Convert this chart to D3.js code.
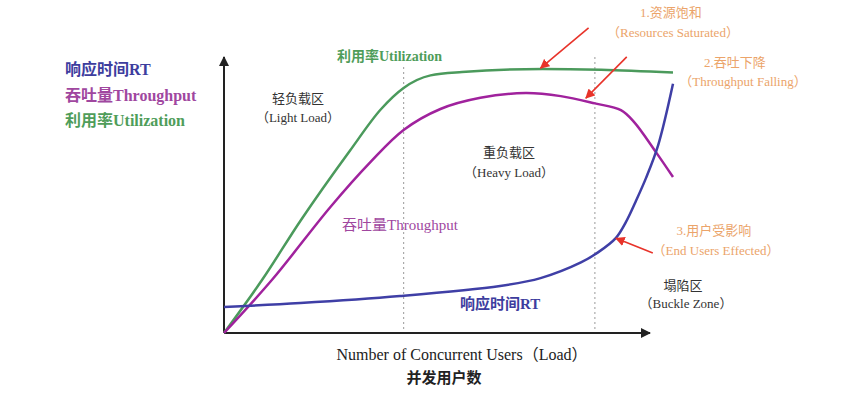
<!DOCTYPE html>
<html>
<head>
<meta charset="utf-8">
<script src="https://cdn.jsdelivr.net/npm/d3@7"></script>
<style>
  body { margin: 0; background: #fff; }
  text { font-family: "Liberation Serif", "Noto Sans CJK SC", serif; }
</style>
</head>
<body>
<div id="chart"></div>
<script>
// load (x) and level (y), both on a 0-100 scale
var utilLoad = [0, 8.5, 17, 28, 35, 40, 46, 53, 71, 84, 100];
var utilValue = [0, 19, 40, 65, 80, 87.5, 92, 93.2, 94.3, 94, 93];

var tputLoad = [0, 10.7, 23.7, 32.6, 40, 48.2, 57.1, 67.2, 75, 82.6, 88.4, 91.3, 96.2, 100];
var tputValue = [0, 19, 45, 61, 72.5, 80, 84, 85.7, 84.6, 82, 79.6, 75.4, 64.6, 55.7];

var rtLoad = [0, 17, 39.2, 61.5, 70.5, 79.5, 83.3, 87.3, 89.5, 91.7, 94, 96.7, 100];
var rtValue = [9.3, 10.7, 13.2, 16.8, 19.6, 25.2, 28.8, 34, 39.6, 47, 55.4, 67.1, 89];

// zone boundaries (load)
var zoneBounds = [40, 82.6];

// red annotation arrows: [tailLoad, tailValue, tipLoad, tipValue]
var arrows = [
    [81.2, 109, 70.5, 94.6],
    [89.7, 98.6, 80.6, 83.9],
    [95.5, 28.6, 87.3, 33.8]
];

function init(){
    var w = 852;
    var h = 396;

    var xScale = d3.scaleLinear().domain([0, 100]).range([224, 673]);
    var yScale = d3.scaleLinear().domain([0, 100]).range([333, 53]);

    var svg = d3.select('#chart')
                .append('svg')
                .attr('width', w)
                .attr('height', h);

    var defs = svg.append('defs');
    defs.append('marker')
        .attr('id', 'axisHead')
        .attr('viewBox', '0 0 10 10')
        .attr('refX', 9).attr('refY', 5)
        .attr('markerWidth', 5).attr('markerHeight', 5)
        .attr('markerUnits', 'strokeWidth')
        .attr('orient', 'auto')
        .append('path').attr('d', 'M0,0L10,5L0,10z').attr('fill', '#222');
    defs.append('marker')
        .attr('id', 'redHead')
        .attr('viewBox', '0 0 10 10')
        .attr('refX', 9).attr('refY', 5)
        .attr('markerWidth', 6).attr('markerHeight', 6)
        .attr('markerUnits', 'strokeWidth')
        .attr('orient', 'auto')
        .append('path').attr('d', 'M0,0L10,5L0,10z').attr('fill', '#e8332a');

    // dashed zone lines
    svg.selectAll('line.zone')
        .data(zoneBounds)
        .enter()
        .append('line')
        .attr('class', 'zone')
        .attr('x1', function(d){ return xScale(d); })
        .attr('x2', function(d){ return xScale(d); })
        .attr('y1', function(d, i){ return i == 0 ? 67 : 57; })
        .attr('y2', yScale(0))
        .attr('stroke', '#aaa')
        .attr('stroke-width', 1.2)
        .attr('stroke-dasharray', '2,3');

    // axes
    svg.append('line')
        .attr('x1', xScale(0)).attr('y1', yScale(0))
        .attr('x2', xScale(0)).attr('y2', 57)
        .attr('stroke', '#222').attr('stroke-width', 2)
        .attr('marker-end', 'url(#axisHead)');
    svg.append('line')
        .attr('x1', xScale(0)).attr('y1', yScale(0))
        .attr('x2', 650).attr('y2', yScale(0))
        .attr('stroke', '#222').attr('stroke-width', 2)
        .attr('marker-end', 'url(#axisHead)');

    var series = [
        { x: utilLoad, y: utilValue, color: '#4b9a5c', curve: d3.curveMonotoneX },
        { x: tputLoad, y: tputValue, color: '#a0229d', curve: d3.curveCatmullRom.alpha(0.5) },
        { x: rtLoad, y: rtValue, color: '#3f3fa6', curve: d3.curveCatmullRom.alpha(0.5) }
    ];

    svg.selectAll('path.series')
        .data(series)
        .enter()
        .append('path')
        .attr('class', 'series')
        .attr('d', function(s){
            var line = d3.line()
                .x(function(d){ return xScale(d[0]); })
                .y(function(d){ return yScale(d[1]); })
                .curve(s.curve);
            return line(s.x.map(function(v, i){ return [v, s.y[i]]; }));
        })
        .attr('fill', 'none')
        .attr('stroke', function(s){ return s.color; })
        .attr('stroke-width', 2.5);

    // red arrows
    svg.selectAll('line.arrow')
        .data(arrows)
        .enter()
        .append('line')
        .attr('class', 'arrow')
        .attr('x1', function(d){ return xScale(d[0]); })
        .attr('y1', function(d){ return yScale(d[1]); })
        .attr('x2', function(d){ return xScale(d[2]); })
        .attr('y2', function(d){ return yScale(d[3]); })
        .attr('stroke', '#e8332a')
        .attr('stroke-width', 1.6)
        .attr('marker-end', 'url(#redHead)');

    // labels: text, x, y, size, color, weight, anchor
    var labels = [
        ['响应时间RT', 65, 75, 16, '#3d3d9e', 'bold', 'start'],
        ['吞吐量Throughput', 65, 101, 16, '#a0479f', 'bold', 'start'],
        ['利用率Utilization', 65, 126, 16, '#4f9d5a', 'bold', 'start'],
        ['利用率Utilization', 337, 61, 14, '#4f9d5a', 'bold', 'start'],
        ['吞吐量Throughput', 342, 230, 15, '#a0479f', 'normal', 'start'],
        ['响应时间RT', 460, 309, 15, '#3d3d9e', 'bold', 'start'],
        ['轻负载区', 298, 103, 13, '#333', 'normal', 'middle'],
        ['（Light Load）', 298, 122, 13, '#333', 'normal', 'middle'],
        ['重负载区', 509, 157, 13, '#333', 'normal', 'middle'],
        ['（Heavy Load）', 509, 177, 13, '#333', 'normal', 'middle'],
        ['塌陷区', 683, 290, 13, '#333', 'normal', 'middle'],
        ['（Buckle Zone）', 686, 308, 13, '#333', 'normal', 'middle'],
        ['1.资源饱和', 671, 17, 13, '#eba46a', 'normal', 'middle'],
        ['（Resources Saturated）', 673, 37, 13, '#eba46a', 'normal', 'middle'],
        ['2.吞吐下降', 735, 67, 13, '#eba46a', 'normal', 'middle'],
        ['（Throughput Falling）', 743, 86, 13, '#eba46a', 'normal', 'middle'],
        ['3.用户受影响', 714, 235, 13, '#eba46a', 'normal', 'middle'],
        ['（End Users Effected）', 716, 255, 13, '#eba46a', 'normal', 'middle'],
        ['Number of Concurrent Users（Load）', 462, 360, 16, '#222', 'normal', 'middle'],
        ['并发用户数', 444, 383, 15, '#222', 'bold', 'middle']
    ];

    svg.selectAll('text.label')
        .data(labels)
        .enter()
        .append('text')
        .attr('class', 'label')
        .text(function(d){ return d[0]; })
        .attr('x', function(d){ return d[1]; })
        .attr('y', function(d){ return d[2]; })
        .attr('font-size', function(d){ return d[3] + 'px'; })
        .attr('fill', function(d){ return d[4]; })
        .attr('font-weight', function(d){ return d[5]; })
        .attr('text-anchor', function(d){ return d[6]; });
}

window.onload = init;
</script>
</body>
</html>
